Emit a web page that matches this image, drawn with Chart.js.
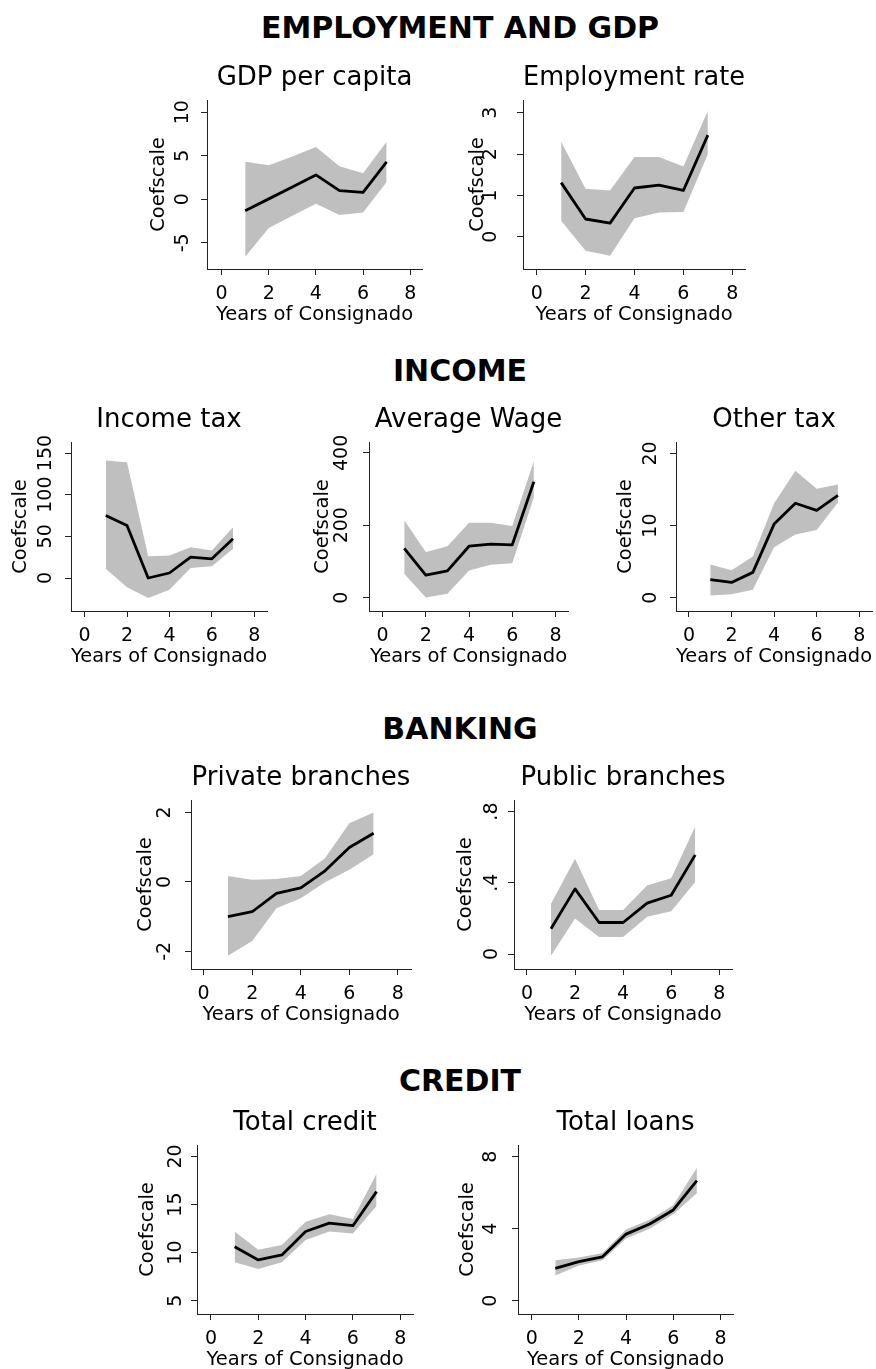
<!DOCTYPE html>
<html>
<head>
<meta charset="utf-8">
<script src="https://cdn.jsdelivr.net/npm/chart.js@4.4.0/dist/chart.umd.min.js"></script>
<style>
  body { margin: 0; background: #fff; width: 876px; height: 1369px; position: relative; overflow: hidden; }
  .section { position: absolute; left: 460px; transform: translateX(-50%); white-space: nowrap;
    font: bold 30px/30px "DejaVu Sans", sans-serif; color: #000; }
  canvas { position: absolute; }
</style>
</head>
<body>
<div class="section" style="top:13px">EMPLOYMENT AND GDP</div>
<div class="section" style="top:356px">INCOME</div>
<div class="section" style="top:714px">BANKING</div>
<div class="section" style="top:1066px">CREDIT</div>
<script>
// event-study coefficients by years of consignado, with 95% bands
const years = [1, 2, 3, 4, 5, 6, 7]
const xTicks = [0, 2, 4, 6, 8]

const gdpCoef = [-1.3, 0.05, 1.4, 2.8, 1.0, 0.8, 4.3]
const gdpHi = [4.3, 3.9, 4.9, 6.0, 3.8, 3.0, 6.6]
const gdpLo = [-6.6, -3.3, -1.9, -0.5, -1.8, -1.5, 2.0]
const gdpTicks = [-5, 0, 5, 10]

const empCoef = [1.31, 0.43, 0.33, 1.18, 1.25, 1.12, 2.46]
const empHi = [2.3, 1.16, 1.12, 1.93, 1.93, 1.7, 3.05]
const empLo = [0.39, -0.34, -0.46, 0.45, 0.59, 0.6, 2.0]
const empTicks = [0, 1, 2, 3]

const incCoef = [75, 63, 0, 6, 25, 23, 47]
const incHi = [141, 139, 26, 27, 37, 33, 61]
const incLo = [11, -11, -24, -14, 12, 14, 35]
const incTicks = [0, 50, 100, 150]

const wageCoef = [136, 62, 74, 142, 148, 146, 320]
const wageHi = [214, 126, 142, 207, 207, 198, 377]
const wageLo = [66, 0, 11, 75, 91, 95, 277]
const wageTicks = [0, 200, 400]

const otherCoef = [2.5, 2.1, 3.5, 10.2, 13.1, 12.1, 14.2]
const otherHi = [4.6, 3.8, 5.7, 13.1, 17.6, 15.1, 15.7]
const otherLo = [0.3, 0.46, 1.1, 7.0, 8.75, 9.4, 13.2]
const otherTicks = [0, 10, 20]

const privCoef = [-1.0, -0.86, -0.33, -0.17, 0.32, 0.99, 1.4]
const privHi = [0.17, 0.06, 0.08, 0.17, 0.68, 1.69, 2.0]
const privLo = [-2.13, -1.7, -0.76, -0.47, -0.01, 0.35, 0.8]
const privTicks = [-2, 0, 2]

const pubCoef = [0.142, 0.366, 0.177, 0.177, 0.286, 0.33, 0.557]
const pubHi = [0.282, 0.535, 0.248, 0.248, 0.385, 0.426, 0.716]
const pubLo = [-0.01, 0.2, 0.095, 0.095, 0.21, 0.24, 0.404]
const pubTicks = [0, 0.4, 0.8]

const creditCoef = [10.6, 9.24, 9.76, 12.2, 13.07, 12.8, 16.35]
const creditHi = [12.2, 10.3, 10.8, 13.2, 14.0, 13.5, 18.2]
const creditLo = [9.0, 8.3, 9.0, 11.3, 12.2, 12.0, 14.86]
const creditTicks = [5, 10, 15, 20]

const loanCoef = [1.8, 2.17, 2.44, 3.7, 4.26, 5.04, 6.67]
const loanHi = [2.25, 2.4, 2.65, 3.95, 4.5, 5.3, 7.39]
const loanLo = [1.4, 1.95, 2.25, 3.45, 4.0, 4.8, 5.97]
const loanTicks = [0, 4, 8]

const ink = '#000'
const band = '#bfbfbf'
const face = '"DejaVu Sans", sans-serif'

// plot box on the page [left, top, right, bottom], axis ranges, label offsets from the y axis
const panels = [
  {title: 'GDP per capita', coef: gdpCoef, hi: gdpHi, lo: gdpLo, yTicks: gdpTicks,
   box: [207, 100, 422, 269], x: [-0.62, 8.5], y: [-8.0, 11.4], lab: 24, ttl: 48},
  {title: 'Employment rate', coef: empCoef, hi: empHi, lo: empLo, yTicks: empTicks,
   box: [523, 100, 745, 269], x: [-0.56, 8.52], y: [-0.78, 3.31], lab: 32, ttl: 45},
  {title: 'Income tax', coef: incCoef, hi: incHi, lo: incLo, yTicks: incTicks,
   box: [71, 442, 267, 611], x: [-0.64, 8.6], y: [-39.6, 163.2], lab: 25, ttl: 50},
  {title: 'Average Wage', coef: wageCoef, hi: wageHi, lo: wageLo, yTicks: wageTicks,
   box: [369, 442, 568, 611], x: [-0.63, 8.58], y: [-37, 430], lab: 27, ttl: 46},
  {title: 'Other tax', coef: otherCoef, hi: otherHi, lo: otherLo, yTicks: otherTicks,
   box: [676, 442, 872, 611], x: [-0.61, 8.6], y: [-1.86, 21.6], lab: 25, ttl: 50},
  {title: 'Private branches', coef: privCoef, hi: privHi, lo: privLo, yTicks: privTicks,
   box: [191, 800, 411, 969], x: [-0.52, 8.54], y: [-2.51, 2.36], lab: 26, ttl: 45},
  {title: 'Public branches', coef: pubCoef, hi: pubHi, lo: pubLo, yTicks: pubTicks,
   box: [514, 800, 732, 969], x: [-0.54, 8.53], y: [-0.084, 0.865], lab: 22, ttl: 48},
  {title: 'Total credit', coef: creditCoef, hi: creditHi, lo: creditLo, yTicks: creditTicks,
   box: [197, 1145, 413, 1314], x: [-0.59, 8.54], y: [3.61, 21.2], lab: 21, ttl: 49},
  {title: 'Total loans', coef: loanCoef, hi: loanHi, lo: loanLo, yTicks: loanTicks,
   box: [518, 1145, 733, 1314], x: [-0.58, 8.53], y: [-0.74, 8.65], lab: 27, ttl: 50},
]

const W = 64   // y axis strip
const T = 39   // panel title strip
const B = 60   // x axis strip
const R = 14   // right margin

// stata style numbers: .4 instead of 0.4
const stataNum = v => String(v).replace(/^(-?)0\./, '$1.')
const pts = arr => arr.map((v, i) => ({x: years[i], y: v}))

// y tick labels read bottom-to-top, so draw them rotated
const yLabels = {
  id: 'yLabels',
  afterDraw(chart, args, opts) {
    const {ctx} = chart
    const y = chart.scales.y
    ctx.save()
    ctx.fillStyle = ink
    ctx.font = '19px ' + face
    ctx.textAlign = 'center'
    ctx.textBaseline = 'middle'
    y.ticks.forEach((t, i) => {
      ctx.save()
      ctx.translate(y.right - opts.offset, y.getPixelForTick(i))
      ctx.rotate(-Math.PI / 2)
      ctx.fillText(stataNum(t.value), 0, 0)
      ctx.restore()
    })
    ctx.restore()
  }
}

const axisLine = {display: true, color: '#222', width: 1}
const tickMarks = {drawOnChartArea: false, drawTicks: true, tickLength: 6, color: '#222', lineWidth: 1}

panels.forEach(p => {
  const [l, t, r, b] = p.box
  const canvas = document.createElement('canvas')
  canvas.width = W + (r - l) + R
  canvas.height = T + (b - t) + B
  canvas.style.left = (l - W) + 'px'
  canvas.style.top = (t - T) + 'px'
  document.body.appendChild(canvas)

  // datasets draw last-to-first, so the coefficient line goes first to sit on top of the band
  new Chart(canvas, {
    type: 'line',
    data: {
      datasets: [
        {data: pts(p.coef), borderColor: ink, borderWidth: 2.8, borderJoinStyle: 'round', pointRadius: 0, fill: false},
        {data: pts(p.lo), borderWidth: 0, borderColor: 'transparent', pointRadius: 0, fill: false},
        {data: pts(p.hi), borderWidth: 0, borderColor: 'transparent', pointRadius: 0, fill: '-1', backgroundColor: band},
      ],
    },
    options: {
      responsive: false,
      animation: false,
      devicePixelRatio: 1,
      layout: {padding: {right: R}},
      plugins: {
        legend: {display: false},
        tooltip: {enabled: false},
        title: {
          display: true, text: p.title, fullSize: false, color: ink,
          font: {family: face, size: 26, weight: 'normal', lineHeight: 1},
          padding: {top: 4, bottom: 9},
        },
        yLabels: {offset: p.lab},
      },
      scales: {
        x: {
          type: 'linear', min: p.x[0], max: p.x[1],
          afterBuildTicks: s => { s.ticks = xTicks.map(value => ({value})) },
          afterFit: s => { s.height = B },
          border: axisLine,
          grid: tickMarks,
          ticks: {color: ink, font: {family: face, size: 19, lineHeight: 1}, padding: 10, maxRotation: 0, autoSkip: false},
          title: {display: true, text: 'Years of Consignado', color: ink,
            font: {family: face, size: 19.5, lineHeight: 1}, padding: {top: 0, bottom: B - 45.5 - 9.75}},
        },
        y: {
          type: 'linear', min: p.y[0], max: p.y[1],
          afterBuildTicks: s => { s.ticks = p.yTicks.map(value => ({value})) },
          afterFit: s => { s.width = W },
          border: axisLine,
          grid: tickMarks,
          ticks: {display: false},
          title: {display: true, text: 'Coefscale', color: ink,
            font: {family: face, size: 19.5, lineHeight: 1}, padding: {top: W - p.ttl - 9.75, bottom: 0}},
        },
      },
    },
    plugins: [yLabels],
  })
})
</script>
</body>
</html>
